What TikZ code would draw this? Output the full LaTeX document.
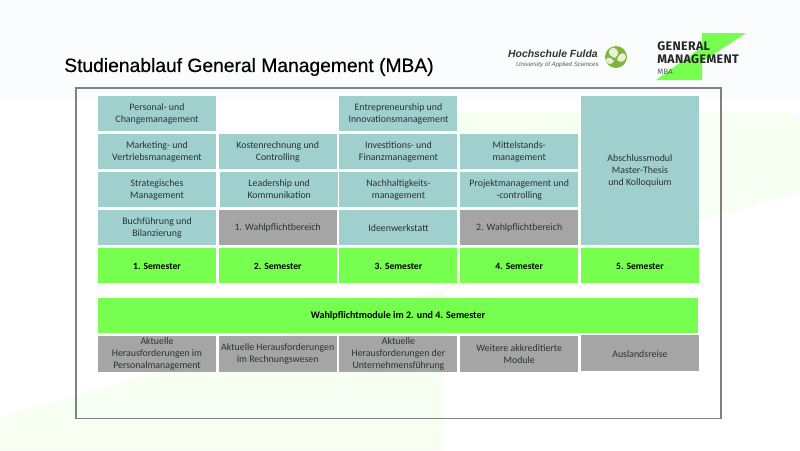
\documentclass[tikz,border=0pt]{standalone}
\usepackage{fontspec}
\setmainfont{Carlito}
\newfontfamily\titlefont[FakeBold=0.4]{Liberation Sans}
\newfontfamily\hsfont{Liberation Sans}
\newfontfamily\logofont[LetterSpace=3]{Fira Sans}
\usepackage{tikz}
\definecolor{moduleteal}{HTML}{9FD0CE}
\definecolor{semgreen}{HTML}{76FF4E}
\definecolor{electgray}{HTML}{A5A5A5}
\definecolor{palegreen}{HTML}{F7FFF3}
\definecolor{topband}{HTML}{FBFCFD}
\definecolor{bodytext}{HTML}{2B3232}
\definecolor{leafgreen}{HTML}{7FB53C}
\definecolor{leafpale}{HTML}{E6F1D6}
\tikzstyle{cell} = [
    rectangle,
    minimum width=88.5pt,
    minimum height=26.25pt,
    inner sep=0pt,
    align=center,
    text=bodytext,
    font=\fontsize{7.4}{9}\selectfont,
    fill=moduleteal
]
\tikzstyle{module} = [cell, execute at begin node={\rule{0pt}{8.5pt}}]
\tikzstyle{oneline} = [cell, execute at begin node={\rule{0pt}{6.2pt}}]
\tikzstyle{elective} = [fill=electgray]
\tikzstyle{semester} = [oneline, fill=semgreen, text=black, font=\fontsize{7.2}{9}\selectfont\bfseries]
\begin{document}
\begin{tikzpicture}[x=0.75pt, y=-0.75pt, node distance=28.5pt]

\useasboundingbox (0,0) rectangle (800,450);
\fill [white] (0,0) rectangle (800,450);
\fill [topband] (0,0) rectangle (800,100);

% faint shapes behind the frame
\fill [palegreen] (443,112) -- (790,112) -- (800,118) -- (800,193) -- (443,290) -- cycle;
\fill [palegreen] (0,417) -- (443,290) -- (443,450) -- (0,450) -- cycle;

\node (title) [anchor=west, inner sep=0pt, font=\fontsize{14.45}{16}\selectfont\titlefont] at (64,67)
{Studienablauf General Management (MBA)};

% logos
\node (hsname) [anchor=east, inner sep=0pt, font=\fontsize{7.8}{9}\selectfont\hsfont\bfseries\itshape, text=black!80] at (598,54)
{Hochschule Fulda};
\node (hssub) [anchor=east, inner sep=0pt, font=\fontsize{4.6}{5}\selectfont\hsfont\itshape, text=black!65] at (599,64.5)
{University of Applied Sciences};
\fill [leafgreen] (616,57) circle (11);
\fill [leafpale] (615,58) .. controls (606,55) and (608,49) .. (613,47.5) .. controls (619,49) and (620,54) .. (615,58);
\fill [leafpale] (617,60) .. controls (619,52) and (625,51) .. (626,57) .. controls (625,62) and (620,63) .. (617,60);
\fill [leafpale] (614,61) .. controls (610,56) and (606,57) .. (606,61) .. controls (608,65) and (612,65) .. (614,61);

\fill [semgreen] (702,33) -- (746,33) -- (702,62) -- (702,80) -- (656,80) -- (702,47) -- cycle;
\node (gmone) [anchor=west, inner sep=0pt, font=\fontsize{9.3}{10}\selectfont\logofont\bfseries, text=black!85] at (657,46)
{GENERAL};
\node (gmtwo) [anchor=west, inner sep=0pt, font=\fontsize{9.3}{10}\selectfont\logofont\bfseries, text=black!85] at (657,59.5)
{MANAGEMENT};
\node (gmthree) [anchor=west, inner sep=0pt, font=\fontsize{5.8}{7}\selectfont\logofont, text=black!65] at (657,71.5)
{MBA};

% outer frame
\draw [black!50, line width=0.9pt] (76,88) rectangle (721,418.5);

% first semester
\node (personal) [module] at (157,113.5)
{Personal- und\\Changemanagement};
\node (marketing) [module, below of=personal]
{Marketing- und\\Vertriebsmanagement};
\node (strategie) [module, below of=marketing]
{Strategisches\\Management};
\node (buchfuehrung) [module, below of=strategie]
{Buchführung und\\Bilanzierung};
\node (semone) [semester, below of=buchfuehrung]
{1. Semester};

% second semester
\node (kosten) [module, right of=marketing, node distance=90.55pt]
{Kostenrechnung und\\Controlling};
\node (leadership) [module, below of=kosten, xshift=1.1pt]
{Leadership und\\Kommunikation};
\node (wahlone) [oneline, elective, below of=leadership, xshift=-1.1pt]
{1. Wahlpflichtbereich};
\node (semtwo) [semester, below of=wahlone]
{2. Semester};

% third semester
\node (invest) [module, right of=kosten, node distance=90.55pt]
{Investitions- und\\Finanzmanagement};
\node (entre) [module, above of=invest]
{Entrepreneurship und\\Innovationsmanagement};
\node (nachhaltig) [module, below of=invest]
{Nachhaltigkeits-\\management};
\node (ideen) [oneline, below of=nachhaltig]
{Ideenwerkstatt};
\node (semthree) [semester, below of=ideen]
{3. Semester};

% fourth semester
\node (mittel) [module, right of=invest, node distance=90.55pt]
{Mittelstands-\\management};
\node (projekt) [module, below of=mittel]
{Projektmanagement und\\-controlling};
\node (wahltwo) [oneline, elective, below of=projekt]
{2. Wahlpflichtbereich};
\node (semfour) [semester, below of=wahltwo]
{4. Semester};

% fifth semester
\node (semfive) [semester, right of=semfour, node distance=90.55pt]
{5. Semester};
\node (abschluss) [module, minimum height=111.75pt, above of=semfive, node distance=71.25pt]
{Abschlussmodul\\Master-Thesis\\und Kolloquium};

% electives
\node (wahlmodule) [semester, minimum width=450pt, font=\fontsize{7.55}{9}\selectfont\bfseries] at (398,315.5)
{Wahlpflichtmodule im 2. und 4. Semester};
\node (aktone) [module, elective, minimum height=27pt] at (157,354)
{Aktuelle\\Herausforderungen im\\Personalmanagement};
\node (akttwo) [module, elective, minimum height=27pt, right of=aktone, node distance=90.55pt]
{Aktuelle Herausforderungen\\im Rechnungswesen};
\node (aktthree) [module, elective, minimum height=27pt, right of=akttwo, node distance=90.55pt]
{Aktuelle\\Herausforderungen der\\Unternehmensführung};
\node (weitere) [module, elective, minimum height=27pt, right of=aktthree, node distance=90.55pt]
{Weitere akkreditierte\\Module};
\node (reise) [oneline, elective, minimum height=27pt, right of=weitere, node distance=90.55pt, yshift=0.75pt]
{Auslandsreise};

\end{tikzpicture}
\end{document}
